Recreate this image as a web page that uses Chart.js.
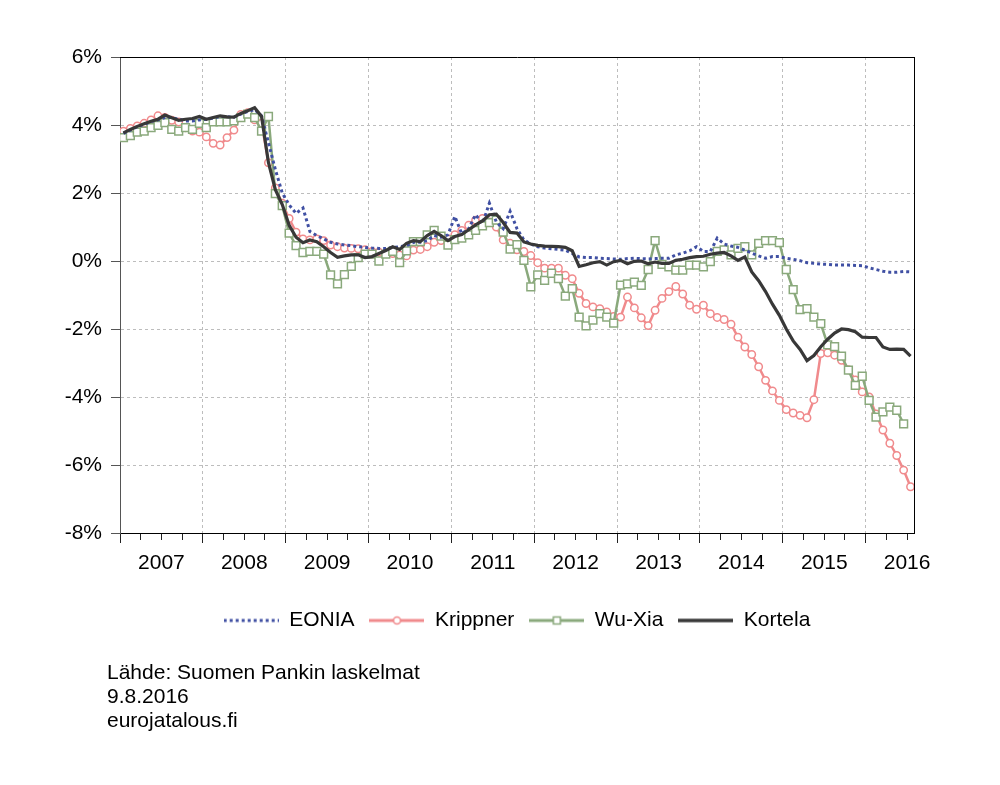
<!DOCTYPE html>
<html>
<head>
<meta charset="utf-8">
<script src="https://cdn.jsdelivr.net/npm/chart.js@4.4.1/dist/chart.umd.min.js"></script>
<style>
  html, body { margin: 0; padding: 0; background: #fff; }
  #wrap { position: relative; width: 1000px; height: 785px; }
  #lahde { position: absolute; left: 107px; top: 660px; font: 21px "Liberation Sans", Arial, sans-serif; line-height: 24px; color: #000; }
</style>
</head>
<body>
<div id="wrap">
  <canvas id="korot" width="1000" height="785"></canvas>
  <div id="lahde">Lähde: Suomen Pankin laskelmat<br>9.8.2016<br>eurojatalous.fi</div>
</div>
<script>
"use strict"

// kuukausisarjat, tammikuu 2007 - heinäkuu 2016
let kuukausia = 115   // x-akseli tammi 2007 - elo 2016

let eonia = [
    3.75, 3.85, 3.95, 4.02, 4.1, 4.15, 4.22, 4.22, 4.17, 4.12, 4.12, 4.15,
    4.17, 4.2, 4.25, 4.24, 4.23, 4.32, 4.4, 4.45, 4.27, 3.48, 2.69, 2.0,
    1.65, 1.4, 1.56, 0.87, 0.75, 0.65, 0.55, 0.5, 0.47, 0.45, 0.42, 0.4,
    0.38, 0.37, 0.37, 0.4, 0.42, 0.45, 0.55, 0.55, 0.6, 0.75, 0.7, 0.77,
    1.31, 0.8, 0.95, 1.36, 1.1, 1.7, 1.15, 0.95, 1.46, 0.95, 0.62, 0.5,
    0.42, 0.38, 0.36, 0.34, 0.32, 0.22, 0.12, 0.1, 0.1, 0.08, 0.07, 0.06,
    0.05, 0.07, 0.08, 0.07, 0.06, 0.07, 0.08, 0.08, 0.18, 0.23, 0.3, 0.42,
    0.28, 0.28, 0.67, 0.5, 0.44, 0.4, 0.32, 0.23, 0.15, 0.08, 0.13, 0.13,
    0.08, 0.05, 0.01, -0.05, -0.07, -0.09, -0.1, -0.12, -0.12, -0.12, -0.13, -0.14,
    -0.2, -0.25, -0.3, -0.33, -0.33, -0.31, -0.32
]

let krippner = [
    3.82, 3.9, 3.97, 4.05, 4.15, 4.27, 4.22, 4.14, 4.09, 3.92, 3.82, 3.79,
    3.65, 3.46, 3.41, 3.63, 3.85, 4.31, 4.36, 4.15, 4.05, 2.89, 2.15, 1.7,
    1.25, 0.85, 0.65, 0.62, 0.65, 0.6, 0.47, 0.42, 0.38, 0.37, 0.36, 0.33,
    0.28, 0.26, 0.23, 0.22, 0.18, 0.15, 0.32, 0.34, 0.42, 0.55, 0.6, 0.65,
    0.77, 0.9, 1.05, 1.2, 1.25, 1.15, 1.0, 0.62, 0.52, 0.33, 0.28, 0.16,
    -0.05, -0.21, -0.21, -0.21, -0.42, -0.52, -0.95, -1.25, -1.35, -1.4, -1.5, -1.63,
    -1.65, -1.06, -1.38, -1.67, -1.9, -1.45, -1.1, -0.9, -0.75, -0.97, -1.3, -1.42,
    -1.3, -1.55, -1.66, -1.72, -1.86, -2.24, -2.53, -2.75, -3.11, -3.51, -3.82, -4.1,
    -4.37, -4.47, -4.54, -4.61, -4.08, -2.72, -2.7, -2.77, -2.92, -3.2, -3.5, -3.85,
    -4.0, -4.5, -4.97, -5.36, -5.72, -6.15, -6.64
]

let wuxia = [
    3.63, 3.69, 3.79, 3.82, 3.92, 3.99, 4.07, 3.87, 3.82, 3.92, 3.87, 4.05,
    3.92, 4.09, 4.09, 4.09, 4.12, 4.22, 4.32, 4.22, 3.82, 4.25, 1.98, 1.63,
    0.82, 0.45, 0.25, 0.28, 0.28, 0.2, -0.41, -0.67, -0.4, -0.16, 0.1, 0.2,
    0.2, 0.0, 0.2, 0.28, -0.05, 0.3, 0.57, 0.57, 0.77, 0.9, 0.73, 0.47,
    0.63, 0.67, 0.77, 0.9, 1.03, 1.13, 1.2, 0.85, 0.35, 0.48, 0.02, -0.76,
    -0.41, -0.57, -0.36, -0.52, -1.03, -0.81, -1.65, -1.91, -1.74, -1.55, -1.65, -1.83,
    -0.71, -0.67, -0.62, -0.72, -0.25, 0.6, -0.1, -0.17, -0.27, -0.27, -0.12, -0.12,
    -0.17, -0.02, 0.28, 0.33, 0.18, 0.37, 0.42, 0.18, 0.52, 0.6, 0.6, 0.54,
    -0.25, -0.84, -1.43, -1.4, -1.65, -1.84, -2.47, -2.52, -2.8, -3.21, -3.66, -3.39,
    -4.1, -4.59, -4.44, -4.3, -4.39, -4.79
]

let kortela = [
    3.77, 3.87, 3.96, 4.04, 4.11, 4.17, 4.29, 4.21, 4.14, 4.17, 4.19, 4.25,
    4.17, 4.22, 4.27, 4.24, 4.23, 4.34, 4.42, 4.51, 4.25, 2.9, 2.1, 1.66,
    1.05, 0.7, 0.54, 0.62, 0.57, 0.42, 0.25, 0.11, 0.15, 0.18, 0.18, 0.1,
    0.13, 0.22, 0.31, 0.42, 0.34, 0.52, 0.6, 0.57, 0.75, 0.87, 0.75, 0.6,
    0.72, 0.78, 0.92, 1.06, 1.18, 1.36, 1.38, 1.13, 0.84, 0.82, 0.56, 0.5,
    0.46, 0.44, 0.43, 0.42, 0.4, 0.3, -0.16, -0.11, -0.05, -0.02, -0.12, -0.02,
    0.02, -0.08, -0.01, 0.0, -0.08, -0.03, -0.07, -0.07, 0.02, 0.05, 0.1, 0.13,
    0.14, 0.2, 0.23, 0.25, 0.15, 0.02, 0.12, -0.32, -0.58, -0.9, -1.27, -1.6,
    -2.0, -2.35, -2.6, -2.93, -2.78, -2.52, -2.3, -2.12, -2.0, -2.02, -2.08, -2.24,
    -2.25, -2.25, -2.53, -2.6, -2.59, -2.6, -2.8
]

let vuodet = ["2007", "2008", "2009", "2010", "2011", "2012", "2013", "2014", "2015", "2016"]
let sarjat = ["EONIA", "Krippner", "Wu-Xia", "Kortela"]

const SININEN = "#4050a3"
const PUNAINEN = "#f08a8c"
const VIHREA = "#8aa97c"
const MUSTA = "#383838"
const RUUDUKKO = "#bdbdbd"

// piste kuukauden puoliväliin
let pisteet = arr => arr.map((v, i) => ({ x: i + 0.5, y: v }))

// neljännesvuosittaiset jaot
let jaot = []
for (let k = 0; k < kuukausia; k += 3) jaot.push(k)

function selitekuva(vari, leveys, katko, merkki) {
    let c = document.createElement("canvas")
    c.width = 55
    c.height = 14
    let g = c.getContext("2d")
    g.strokeStyle = vari
    g.lineWidth = leveys
    g.setLineDash(katko)
    g.beginPath()
    g.moveTo(0, 7)
    g.lineTo(55, 7)
    g.stroke()
    g.setLineDash([])
    g.fillStyle = "#fff"
    g.lineWidth = 1.5
    if (merkki === "circle") {
        g.beginPath()
        g.arc(27.5, 7, 3.5, 0, Math.PI * 2)
        g.fill()
        g.stroke()
    }
    if (merkki === "rect") {
        g.fillRect(24, 3.5, 7, 7)
        g.strokeRect(24, 3.5, 7, 7)
    }
    return c
}

let kuvat = [
    selitekuva(SININEN, 3, [3, 3], null),
    selitekuva(PUNAINEN, 3, [], "circle"),
    selitekuva(VIHREA, 3, [], "rect"),
    selitekuva(MUSTA, 3.5, [], null)
]

Chart.defaults.font.family = "'Liberation Sans', Arial, sans-serif"
Chart.defaults.font.size = 21
Chart.defaults.color = "#000"

let korot = new Chart(document.querySelector("#korot"), {
    type: "line",
    data: {
        datasets: [
            {
                label: sarjat[0], data: pisteet(eonia), order: 1,
                borderColor: SININEN, borderWidth: 3, borderDash: [3, 3], pointRadius: 0
            },
            {
                label: sarjat[1], data: pisteet(krippner), order: 3,
                borderColor: PUNAINEN, borderWidth: 2.5,
                pointStyle: "circle", pointRadius: 3.7, pointBorderWidth: 1.5,
                pointBackgroundColor: "#fff", pointBorderColor: PUNAINEN
            },
            {
                label: sarjat[2], data: pisteet(wuxia), order: 2,
                borderColor: VIHREA, borderWidth: 2.5,
                pointStyle: "rect", pointRadius: 5.5, pointBorderWidth: 1.5,
                pointBackgroundColor: "#fff", pointBorderColor: VIHREA
            },
            {
                label: sarjat[3], data: pisteet(kortela), order: 0,
                borderColor: MUSTA, borderWidth: 3.2, pointRadius: 0
            }
        ]
    },
    options: {
        responsive: false,
        animation: false,
        layout: { padding: { top: 57, right: 86, bottom: 144, left: 0 } },
        plugins: {
            tooltip: { enabled: false },
            legend: {
                position: "bottom",
                fullSize: false,
                labels: {
                    usePointStyle: true,
                    pointStyleWidth: 55,
                    padding: 15,
                    font: { size: 21 },
                    generateLabels: chart => chart.data.datasets.map((d, i) => ({
                        text: d.label,
                        pointStyle: kuvat[i],
                        datasetIndex: i,
                        fontColor: "#000",
                        lineWidth: 0,
                        strokeStyle: "transparent",
                        fillStyle: "transparent",
                        hidden: false
                    }))
                }
            }
        },
        scales: {
            x: {
                type: "linear",
                min: 0,
                max: kuukausia,
                afterBuildTicks: s => { s.ticks = jaot.map(v => ({ value: v })) },
                afterFit: s => { s.height = 62 },
                ticks: {
                    autoSkip: false,
                    maxRotation: 0,
                    padding: 8,
                    font: { size: 21 },
                    callback: v => (v % 12 === 6 ? vuodet[(v - 6) / 12] : "")
                },
                grid: {
                    color: c => (c.tick && c.tick.value % 12 === 0 && c.tick.value > 0 ? RUUDUKKO : "transparent"),
                    tickLength: 10,
                    tickColor: "#222",
                    tickBorderDash: c => (c.tick && c.tick.value % 12 === 0 ? [] : [6, 20])
                },
                border: { color: "#000", width: 1, dash: [3, 3] }
            },
            y: {
                min: -8,
                max: 6,
                afterFit: s => { s.width = 120 },
                ticks: {
                    stepSize: 2,
                    padding: 9,
                    font: { size: 21 },
                    callback: v => v + "%"
                },
                grid: {
                    color: c => (c.tick && (c.tick.value === 6 || c.tick.value === -8) ? "transparent" : RUUDUKKO),
                    tickLength: 9,
                    tickColor: "#555"
                },
                border: { color: "#555", width: 1, dash: [3, 3] }
            },
            ylaraja: {
                type: "linear",
                position: "top",
                afterFit: s => { s.height = 0 },
                ticks: { display: false },
                grid: { drawOnChartArea: false, drawTicks: false },
                border: { color: "#000", width: 1 }
            },
            oikea: {
                type: "linear",
                position: "right",
                afterFit: s => { s.width = 0 },
                ticks: { display: false },
                grid: { drawOnChartArea: false, drawTicks: false },
                border: { color: "#000", width: 1 }
            }
        }
    }
})
</script>
</body>
</html>
